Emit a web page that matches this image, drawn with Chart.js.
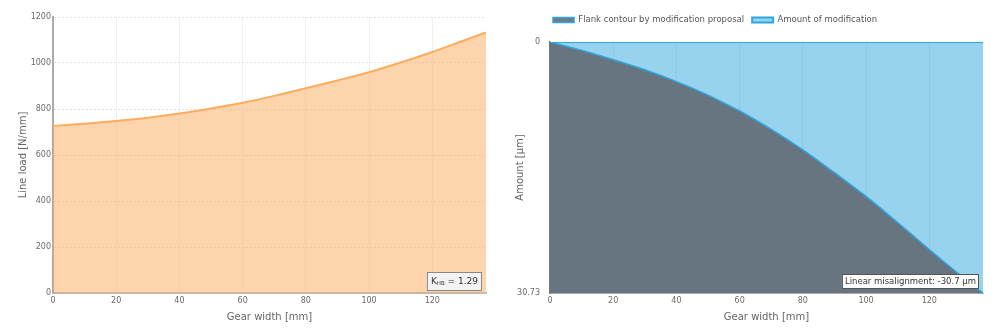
<!DOCTYPE html>
<html>
<head>
<meta charset="utf-8">
<script src="https://cdn.jsdelivr.net/npm/chart.js@4.4.1/dist/chart.umd.min.js"></script>
<style>
  body { margin: 0; background: #fff; }
  .panel { position: absolute; top: 0; width: 500px; height: 335px; }
</style>
</head>
<body>
<div class="panel" style="left:0"><canvas id="loadChart" width="500" height="335"></canvas></div>
<div class="panel" style="left:500px"><canvas id="modChart" width="500" height="335"></canvas></div>
<script>
// gear width positions [mm]
const gearWidth = [0, 10, 20, 30, 40, 50, 60, 70, 80, 90, 100, 110, 120, 130, 137];
// line load [N/mm]
const lineLoad = [727, 736, 748, 762, 780, 802, 827, 857, 890, 924, 960, 1002, 1048, 1098, 1133];
// flank contour by modification proposal [µm]
const flankContour = [0, 1.0, 2.17, 3.4, 4.85, 6.5, 8.45, 10.7, 13.2, 16.0, 18.9, 22.1, 25.4, 28.6, 30.73];
// amount of modification [µm]
const modWidth = [0, 137];
const modAmount = [0, 0];
const amountTicks = [0, 30.73];
const kHB = "1.29";
const misalignment = "-30.7 µm";

Chart.defaults.font.family = "'DejaVu Sans', sans-serif";
Chart.defaults.color = "#6a6a6a";

// little framed text box in the lower right corner of the plot
const noteBox = {
  id: "noteBox",
  afterDatasetsDraw(chart, args, opts) {
    if (!opts.parts) return;
    const ctx = chart.ctx;
    const area = chart.chartArea;
    ctx.save();
    let w = 0;
    for (const p of opts.parts) {
      ctx.font = p.size + "px 'DejaVu Sans', sans-serif";
      w += ctx.measureText(p.text).width;
    }
    const bw = w + opts.padX * 2;
    const bx = area.right - opts.right - bw;
    const by = area.bottom - opts.bottom - opts.height;
    ctx.fillStyle = opts.bg;
    ctx.fillRect(bx, by, bw, opts.height);
    ctx.strokeStyle = opts.border;
    ctx.lineWidth = 1;
    ctx.strokeRect(bx + 0.5, by + 0.5, bw - 1, opts.height - 1);
    ctx.fillStyle = "#333";
    ctx.textBaseline = "middle";
    let x = bx + opts.padX;
    for (const p of opts.parts) {
      ctx.font = p.size + "px 'DejaVu Sans', sans-serif";
      ctx.fillText(p.text, x, by + opts.height / 2 + (p.dy || 0));
      x += ctx.measureText(p.text).width;
    }
    ctx.restore();
  }
};

// place the legend over the plot start and leave a gap under it
const legendPlace = {
  id: "legendPlace",
  beforeInit(chart) {
    if (!chart.legend) return;
    const fit = chart.legend.fit;
    chart.legend.fit = function () {
      fit.call(this);
      this.height += 7.75;
    };
  },
  afterLayout(chart) {
    if (chart.legend) chart.legend.left = 45;
  }
};

const plain = (v) => String(v);

new Chart(document.getElementById("loadChart"), {
  type: "line",
  data: {
    datasets: [{
      label: "Line load",
      data: gearWidth.map((x, i) => ({ x: x, y: lineLoad[i] })),
      borderColor: "#fbac5e",
      backgroundColor: "rgba(252,170,90,0.5)",
      borderWidth: 2,
      pointRadius: 0,
      cubicInterpolationMode: "monotone",
      fill: "origin"
    }]
  },
  options: {
    responsive: false,
    animation: false,
    layout: { padding: { left: 0, right: 14, top: 17, bottom: 0 } },
    plugins: {
      legend: { display: false },
      tooltip: { enabled: false },
      noteBox: {
        parts: [
          { text: "K", size: 9 },
          { text: "HB", size: 5.5, dy: 2 },
          { text: " = " + kHB, size: 9 }
        ],
        padX: 4, height: 19, right: 4, bottom: 2,
        bg: "#f3f3f3", border: "#888"
      }
    },
    scales: {
      x: {
        type: "linear",
        min: 0,
        max: 137,
        afterFit: (s) => { s.height = 42; },
        ticks: { stepSize: 20, includeBounds: false, padding: 3, maxRotation: 0, font: { size: 8 }, callback: plain },
        grid: { color: "#f0f0f0", drawTicks: false },
        border: { color: "#bbb", width: 2 },
        title: { display: true, text: "Gear width [mm]", color: "#666", font: { size: 10 }, padding: { top: 0, bottom: 12 } }
      },
      y: {
        min: 0,
        max: 1200,
        afterFit: (s) => { s.width = 53; },
        ticks: { stepSize: 200, padding: 2, font: { size: 8 }, callback: plain },
        grid: { color: "#e2e2e2", drawTicks: false },
        border: { color: "#aaa", width: 2, dash: [2, 2] },
        title: { display: true, text: "Line load [N/mm]", color: "#666", font: { size: 10 }, padding: { top: 17, bottom: 0 } }
      }
    }
  },
  plugins: [noteBox]
});

new Chart(document.getElementById("modChart"), {
  type: "line",
  data: {
    datasets: [{
      label: "Flank contour by modification proposal",
      data: gearWidth.map((x, i) => ({ x: x, y: flankContour[i] })),
      borderColor: "#2ea6de",
      backgroundColor: "rgba(99,108,118,0.9)",
      borderWidth: 1.5,
      pointRadius: 0,
      cubicInterpolationMode: "monotone",
      fill: { value: amountTicks[1] }
    }, {
      label: "Amount of modification",
      data: modWidth.map((x, i) => ({ x: x, y: modAmount[i] })),
      borderColor: "#2ea6de",
      backgroundColor: "rgba(47,168,224,0.5)",
      borderWidth: 2,
      pointRadius: 0,
      fill: { value: amountTicks[1] }
    }]
  },
  options: {
    responsive: false,
    animation: false,
    layout: { padding: { left: 0, right: 17, top: 7.75, bottom: 0 } },
    plugins: {
      legend: {
        align: "start",
        labels: { boxWidth: 21, boxHeight: 5, padding: 8, color: "#555", font: { size: 8.5 } }
      },
      tooltip: { enabled: false },
      noteBox: {
        parts: [{ text: "Linear misalignment: " + misalignment, size: 8.5 }],
        padX: 3, height: 15, right: 4, bottom: 4,
        bg: "#fff", border: "#555"
      }
    },
    scales: {
      x: {
        type: "linear",
        min: 0,
        max: 137,
        afterFit: (s) => { s.height = 42; },
        ticks: { stepSize: 20, includeBounds: false, padding: 3, maxRotation: 0, font: { size: 8 }, callback: plain },
        grid: { color: "#eaeaea", drawTicks: false },
        border: { color: "#aaa", width: 1 },
        title: { display: true, text: "Gear width [mm]", color: "#666", font: { size: 10 }, padding: { top: 0, bottom: 12 } }
      },
      y: {
        reverse: true,
        min: amountTicks[0],
        max: amountTicks[1],
        afterFit: (s) => { s.width = 50; },
        afterBuildTicks: (s) => { s.ticks = amountTicks.map((v) => ({ value: v })); },
        ticks: { padding: 2, font: { size: 8 }, callback: plain },
        grid: { display: false },
        border: { color: "#777", width: 1.5 },
        title: { display: true, text: "Amount [µm]", color: "#666", font: { size: 10 }, padding: { top: 14.5, bottom: 0 } }
      }
    }
  },
  plugins: [noteBox, legendPlace]
});
</script>
</body>
</html>
